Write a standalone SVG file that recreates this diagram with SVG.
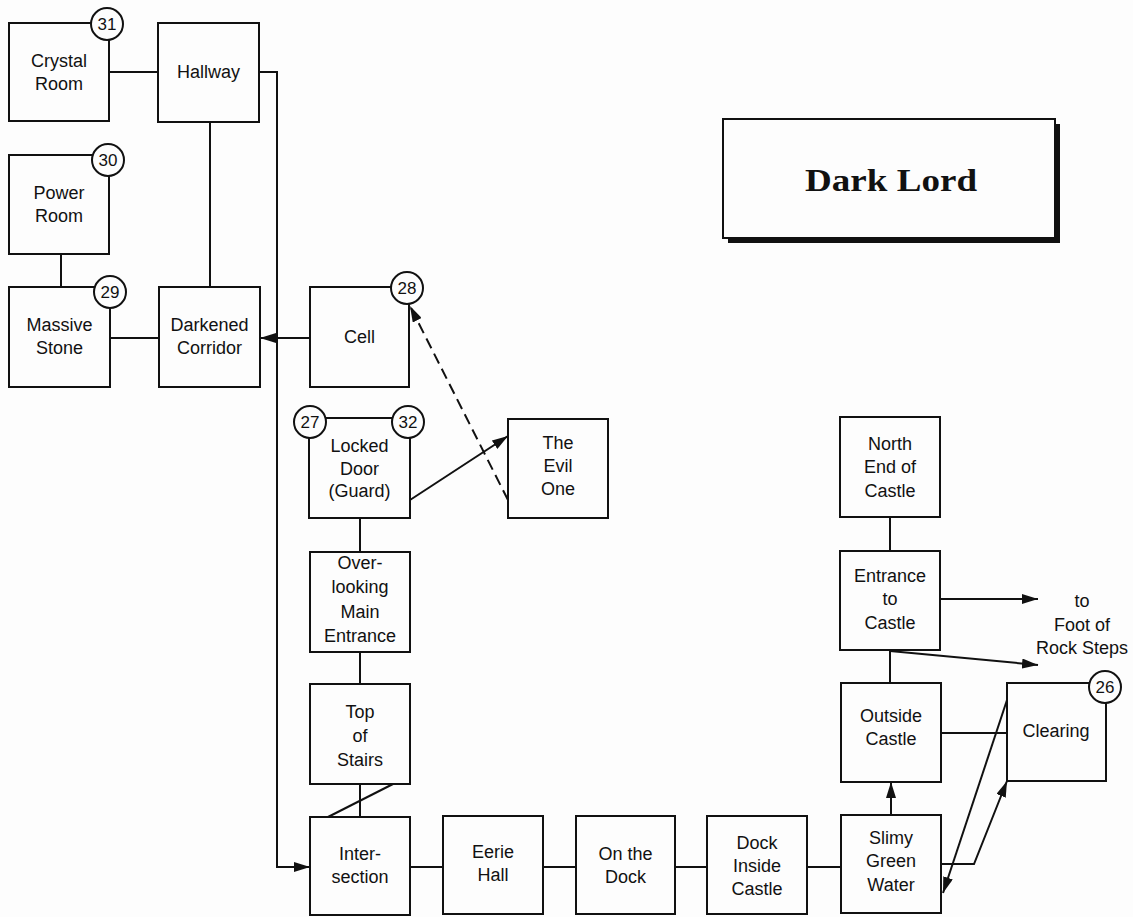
<svg xmlns="http://www.w3.org/2000/svg" width="1133" height="917" viewBox="0 0 1133 917">
<defs>
<marker id="ah" markerUnits="userSpaceOnUse" markerWidth="16" markerHeight="10" refX="16" refY="5" orient="auto">
<path d="M0,0 L16,5 L0,10 z" fill="#111"/>
</marker>
</defs>
<style>
.box{fill:#fdfdfd;stroke:#111;stroke-width:2}
.ln{fill:none;stroke:#111;stroke-width:2}
.dash{fill:none;stroke:#111;stroke-width:2;stroke-dasharray:11 6}
.t{font-family:"Liberation Sans",Arial,sans-serif;font-size:18px;fill:#111;text-anchor:middle}
.c{fill:#fdfdfd;stroke:#111;stroke-width:2}
.n{font-family:"Liberation Sans",Arial,sans-serif;font-size:17px;fill:#111;text-anchor:middle}
.title{font-family:"Liberation Serif","Times New Roman",serif;font-size:32px;font-weight:bold;fill:#111;text-anchor:middle}
</style>
<rect x="0" y="0" width="1133" height="917" fill="#fdfdfd"/>

<g id="connectors">
<line class="ln" x1="109" y1="72" x2="158" y2="72"/>
<polyline class="ln" points="259,72 277,72 277,867 310,867" marker-end="url(#ah)"/>
<line class="ln" x1="210" y1="122" x2="210" y2="287"/>
<line class="ln" x1="61" y1="254" x2="61" y2="287"/>
<line class="ln" x1="110" y1="338" x2="159" y2="338"/>
<line class="ln" x1="310" y1="338" x2="260" y2="338" marker-end="url(#ah)"/>
<line class="ln" x1="410" y1="500" x2="508" y2="436" marker-end="url(#ah)"/>
<line class="dash" x1="508" y1="500" x2="410" y2="306" marker-end="url(#ah)"/>
<line class="ln" x1="360" y1="518" x2="360" y2="552"/>
<line class="ln" x1="360" y1="652" x2="360" y2="684"/>
<line class="ln" x1="360" y1="784" x2="360" y2="817"/>
<line class="ln" x1="393" y1="784" x2="328" y2="817"/>
<line class="ln" x1="410" y1="867" x2="443" y2="867"/>
<line class="ln" x1="543" y1="867" x2="576" y2="867"/>
<line class="ln" x1="675" y1="867" x2="707" y2="867"/>
<line class="ln" x1="807" y1="867" x2="841" y2="867"/>
<line class="ln" x1="891" y1="815" x2="891" y2="782" marker-end="url(#ah)"/>
<line class="ln" x1="941" y1="733" x2="1007" y2="733"/>
<line class="ln" x1="890" y1="650" x2="890" y2="683"/>
<line class="ln" x1="890" y1="517" x2="890" y2="551"/>
<line class="ln" x1="940" y1="599" x2="1038" y2="599" marker-end="url(#ah)"/>
<line class="ln" x1="890" y1="651" x2="1038" y2="665" marker-end="url(#ah)"/>
<polyline class="ln" points="941,864 974,864 1007,781" marker-end="url(#ah)"/>
<line class="ln" x1="1007" y1="700" x2="943" y2="893" marker-end="url(#ah)"/>
</g>

<g id="title">
<rect x="728" y="124" width="332" height="119" fill="#111"/>
<rect x="723" y="119" width="332" height="119" fill="#fdfdfd" stroke="#111" stroke-width="2"/>
<text class="title" x="891" y="191" textLength="172" lengthAdjust="spacingAndGlyphs">Dark Lord</text>
</g>

<g id="crystal-room">
<rect class="box" x="9" y="23" width="100" height="98"/>
<text class="t" x="59" y="67">Crystal</text><text class="t" x="59" y="90">Room</text>
<circle class="c" cx="107" cy="24" r="16"/><text class="n" x="107" y="30">31</text>
</g>
<g id="hallway">
<rect class="box" x="158" y="23" width="101" height="99"/>
<text class="t" x="208.5" y="78">Hallway</text>
</g>
<g id="power-room">
<rect class="box" x="9" y="155" width="100" height="99"/>
<text class="t" x="59" y="199">Power</text><text class="t" x="59" y="222">Room</text>
<circle class="c" cx="108" cy="160" r="16"/><text class="n" x="108" y="166">30</text>
</g>
<g id="massive-stone">
<rect class="box" x="9" y="287" width="101" height="100"/>
<text class="t" x="59.5" y="331">Massive</text><text class="t" x="59.5" y="354">Stone</text>
<circle class="c" cx="110" cy="292" r="16"/><text class="n" x="110" y="298">29</text>
</g>
<g id="darkened-corridor">
<rect class="box" x="159" y="287" width="101" height="100"/>
<text class="t" x="209.5" y="331">Darkened</text><text class="t" x="209.5" y="354">Corridor</text>
</g>
<g id="cell">
<rect class="box" x="310" y="287" width="99" height="100"/>
<text class="t" x="359.5" y="343">Cell</text>
<circle class="c" cx="407" cy="288" r="16"/><text class="n" x="407" y="294">28</text>
</g>
<g id="locked-door">
<rect class="box" x="309" y="418" width="101" height="100"/>
<text class="t" x="359.5" y="452">Locked</text><text class="t" x="359.5" y="474.5">Door</text><text class="t" x="359.5" y="497">(Guard)</text>
<circle class="c" cx="310" cy="422" r="16"/><text class="n" x="310" y="428">27</text>
<circle class="c" cx="408" cy="422" r="16"/><text class="n" x="408" y="428">32</text>
</g>
<g id="evil-one">
<rect class="box" x="508" y="419" width="100" height="99"/>
<text class="t" x="558" y="449">The</text><text class="t" x="558" y="472">Evil</text><text class="t" x="558" y="495">One</text>
</g>
<g id="overlooking">
<rect class="box" x="310" y="552" width="100" height="100"/>
<text class="t" x="360" y="569">Over-</text><text class="t" x="360" y="593">looking</text><text class="t" x="360" y="618">Main</text><text class="t" x="360" y="642">Entrance</text>
</g>
<g id="top-of-stairs">
<rect class="box" x="310" y="684" width="100" height="100"/>
<text class="t" x="360" y="718">Top</text><text class="t" x="360" y="742">of</text><text class="t" x="360" y="766">Stairs</text>
</g>
<g id="intersection">
<rect class="box" x="310" y="817" width="100" height="98"/>
<text class="t" x="360" y="860">Inter-</text><text class="t" x="360" y="883">section</text>
</g>
<g id="eerie-hall">
<rect class="box" x="443" y="816" width="100" height="98"/>
<text class="t" x="493" y="858">Eerie</text><text class="t" x="493" y="881">Hall</text>
</g>
<g id="on-the-dock">
<rect class="box" x="576" y="816" width="99" height="98"/>
<text class="t" x="625.5" y="860">On the</text><text class="t" x="625.5" y="883">Dock</text>
</g>
<g id="dock-inside-castle">
<rect class="box" x="707" y="816" width="100" height="98"/>
<text class="t" x="757" y="849">Dock</text><text class="t" x="757" y="872">Inside</text><text class="t" x="757" y="895">Castle</text>
</g>
<g id="slimy-green-water">
<rect class="box" x="841" y="815" width="100" height="98"/>
<text class="t" x="891" y="844">Slimy</text><text class="t" x="891" y="867">Green</text><text class="t" x="891" y="891">Water</text>
</g>
<g id="outside-castle">
<rect class="box" x="841" y="683" width="100" height="99"/>
<text class="t" x="891" y="722">Outside</text><text class="t" x="891" y="745">Castle</text>
</g>
<g id="clearing">
<rect class="box" x="1007" y="683" width="99" height="98"/>
<text class="t" x="1056" y="737">Clearing</text>
<circle class="c" cx="1105" cy="687" r="16"/><text class="n" x="1105" y="693">26</text>
</g>
<g id="entrance-to-castle">
<rect class="box" x="840" y="551" width="100" height="99"/>
<text class="t" x="890" y="582">Entrance</text><text class="t" x="890" y="605">to</text><text class="t" x="890" y="629">Castle</text>
</g>
<g id="north-end-of-castle">
<rect class="box" x="840" y="417" width="100" height="100"/>
<text class="t" x="890" y="450">North</text><text class="t" x="890" y="473">End of</text><text class="t" x="890" y="497">Castle</text>
</g>
<g id="foot-of-rock-steps">
<text class="t" x="1082" y="607">to</text><text class="t" x="1082" y="631">Foot of</text><text class="t" x="1082" y="654">Rock Steps</text>
</g>
</svg>
